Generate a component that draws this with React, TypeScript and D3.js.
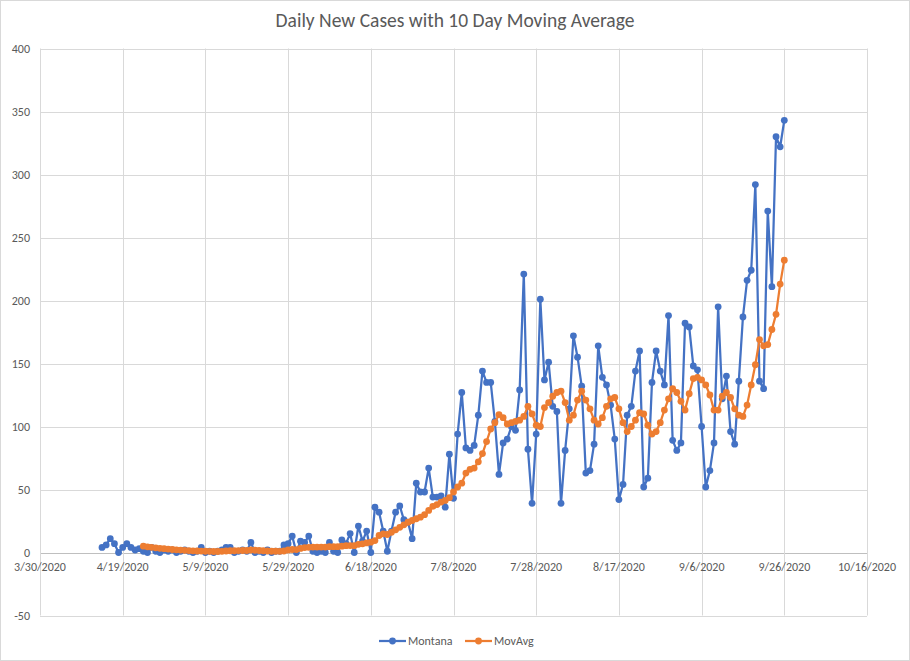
import React from "react";
import * as d3 from "d3";

const WIDTH = 910;
const HEIGHT = 661;
const FONT = "Carlito, Calibri, Lato, 'Open Sans', sans-serif";

// daily new cases, first value is 4/14/2020
const montanaStart = "2020-04-14";
const montana = [
  4, 6, 11, 7, 0, 4, 7, 4, 2, 3,
  1, 0, 4, 1, 0, 2, 1, 2, 0, 1,
  2, 1, 0, 1, 4, 0, 1, 0, 1, 2,
  4, 4, 0, 1, 2, 1, 8, 0, 1, 0,
  2, 0, 1, 1, 6, 7, 13, 0, 9, 8,
  13, 1, 0, 1, 0, 8, 1, 0, 10, 7,
  15, 0, 21, 9, 17, 0, 36, 32, 17, 1,
  17, 32, 37, 26, 24, 11, 55, 48, 48, 67,
  44, 44, 45, 36, 78, 43, 94, 127, 83, 81,
  85, 109, 144, 135, 135, 104, 62, 87, 90, 100,
  97, 129, 221, 82, 39, 94, 201, 137, 151, 116,
  112, 39, 81, 114, 172, 155, 132, 63, 65, 86,
  164, 139, 133, 117, 90, 42, 54, 109, 116, 144,
  160, 52, 59, 135, 160, 144, 133, 188, 89, 81,
  87, 182, 179, 148, 145, 100, 52, 65, 87, 195,
  122, 140, 96, 86, 136, 187, 216, 224, 292, 136,
  130, 271, 211, 330, 322, 343,
];

// 10 day moving average, first value is 4/24/2020
const movAvgStart = "2020-04-24";
const movAvg = [
  5, 4.5, 4.1, 3.7, 3.3, 3.0, 2.7, 2.4, 2.1, 1.9,
  1.7, 1.5, 1.3, 1.2, 1.1, 1.0, 0.9, 0.8, 0.8, 0.9,
  1.2, 1.4, 1.4, 1.5, 1.6, 1.6, 2.0, 1.8, 1.6, 1.4,
  1.2, 1.0, 1.0, 0.9, 1.2, 2.0, 2.4, 2.3, 3.2, 3.9,
  4.1, 4.3, 4.3, 4.3, 4.3, 4.6, 4.6, 4.6, 5.0, 5.4,
  5.5, 5.4, 6.5, 6.9, 7.6, 8.2, 9.5, 13.5, 14.8, 14.3,
  16, 18, 20, 22, 24, 25.4, 26.8, 28, 30, 33.4,
  36.6, 38, 40, 41.3, 43.5, 48, 52, 55, 63, 66,
  67, 72, 78.5, 88, 98, 103, 109.5, 107, 102, 103,
  104, 105, 108, 116, 110, 101, 100, 115, 119, 124,
  127, 128, 119, 105, 109, 121, 128, 121, 114, 105,
  102, 107, 116, 122, 123, 114, 103, 96, 100, 105,
  111, 110, 101, 94, 96, 103, 113, 122, 130, 127,
  120, 113, 126, 138, 139, 137, 133, 125, 113, 113,
  124, 127, 123, 114, 109, 108, 117, 133, 149, 169,
  164, 165, 177, 189, 213, 232,
];

const xStart = "2020-03-30";
const xEnd = "2020-10-16";
const xTickStep = 20;
const yTicks = [-50, 0, 50, 100, 150, 200, 250, 300, 350, 400];

const seriesNames = ["Montana", "MovAvg"];
const seriesColors = ["#4472C4", "#ED7D31"];

const parse = d3.utcParse("%Y-%m-%d");
const fmt = d3.utcFormat("%-m/%-d/%Y");

function toPoints(start: string, vals: number[]) {
  const s = parse(start)!;
  return vals.map((v, i) => ({ date: d3.utcDay.offset(s, i), value: v }));
}

export default function App() {
  const x = d3.scaleUtc().domain([parse(xStart)!, parse(xEnd)!]).range([40, 867]);
  const y = d3.scaleLinear().domain([-50, 400]).range([615.5, 48.5]);
  const xTicks = d3.utcDay.range(parse(xStart)!, d3.utcDay.offset(parse(xEnd)!, 1), xTickStep);

  const series = [toPoints(montanaStart, montana), toPoints(movAvgStart, movAvg)];
  const line = d3.line<{ date: Date; value: number }>()
    .x(d => x(d.date))
    .y(d => y(d.value));

  return (
    <svg width={WIDTH} height={HEIGHT} style={{ position: "absolute", left: 0, top: 0, background: "#fff" }}
      fontFamily={FONT}>
      <rect x={0.5} y={0.5} width={WIDTH - 1} height={HEIGHT - 1} fill="#fff" stroke="#d9d9d9" />
      <text x={455} y={27} textAnchor="middle" fontSize={19.5} fill="#595959">
        Daily New Cases with 10 Day Moving Average
      </text>

      {/* gridlines */}
      {yTicks.map(t => (
        <line key={"gy" + t} x1={40} x2={867} y1={Math.round(y(t)) + 0.5} y2={Math.round(y(t)) + 0.5}
          stroke={t === 0 ? "#bfbfbf" : "#d9d9d9"} strokeWidth={1} />
      ))}
      {xTicks.map((t, i) => (
        <line key={"gx" + i} x1={Math.round(x(t)) + 0.5} x2={Math.round(x(t)) + 0.5} y1={y(400)} y2={y(-50)}
          stroke="#d9d9d9" strokeWidth={1} />
      ))}

      {/* axis labels */}
      {yTicks.map(t => (
        <text key={"ly" + t} x={30} y={y(t)} dy="0.35em" textAnchor="end" fontSize={12} fill="#595959">{t}</text>
      ))}
      {xTicks.map((t, i) => (
        <text key={"lx" + i} x={x(t)} y={y(0) + 14} dy="0.35em" textAnchor="middle" fontSize={12} fill="#595959">
          {fmt(t)}
        </text>
      ))}

      {/* series */}
      {series.map((pts, si) => (
        <g key={"s" + si}>
          <path d={line(pts) || ""} fill="none" stroke={seriesColors[si]} strokeWidth={2.25} strokeLinejoin="round" />
          {pts.map((p, i) => (
            <circle key={i} cx={x(p.date)} cy={y(p.value)} r={3.4} fill={seriesColors[si]} />
          ))}
        </g>
      ))}

      {/* legend */}
      {seriesNames.map((name, i) => {
        const lx = i === 0 ? 379 : 465;
        return (
          <g key={"leg" + i}>
            <line x1={lx} x2={lx + 27} y1={641} y2={641} stroke={seriesColors[i]} strokeWidth={2.25} />
            <circle cx={lx + 13.5} cy={641} r={3.4} fill={seriesColors[i]} />
            <text x={lx + 29} y={641} dy="0.35em" fontSize={12} fill="#595959">{name}</text>
          </g>
        );
      })}
    </svg>
  );
}
